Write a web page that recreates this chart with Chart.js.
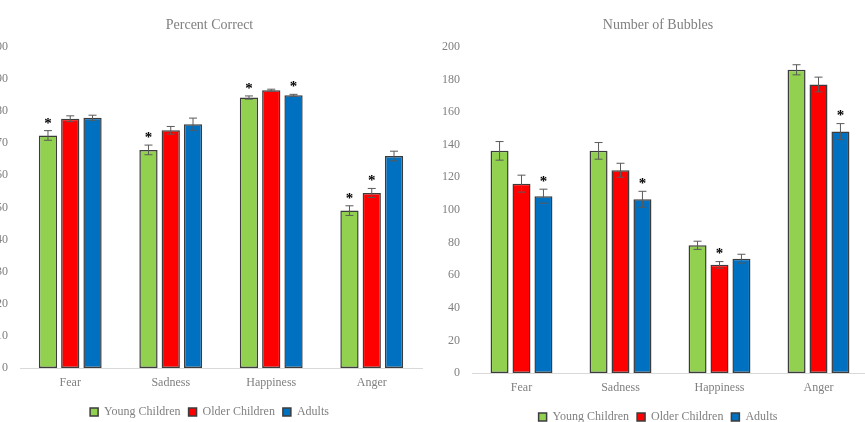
<!DOCTYPE html>
<html>
<head>
<meta charset="utf-8">
<script src="https://cdn.jsdelivr.net/npm/chart.js@4.4.0/dist/chart.umd.min.js"></script>
<style>
  html, body { margin: 0; padding: 0; background: #fff; }
  body { width: 865px; height: 422px; overflow: hidden; position: relative; }
  .box { position: absolute; top: 0; }
  #leftBox { left: -22px; width: 463px; height: 428px; }
  #rightBox { left: 430px; width: 456px; height: 433px; }
</style>
</head>
<body>
<div class="box" id="leftBox"><canvas id="chartPct"></canvas></div>
<div class="box" id="rightBox"><canvas id="chartBub"></canvas></div>
<script>
// categories and series
const categories = ['Fear', 'Sadness', 'Happiness', 'Anger'];
const seriesNames = ['Young Children', 'Older Children', 'Adults'];

// Percent Correct
const pctYoung = [72.4, 67.9, 84.2, 49.0];
const pctOlder = [77.6, 74.0, 86.5, 54.5];
const pctAdults = [77.9, 75.9, 84.9, 66.0];
const pctYoungErr = [1.5, 1.5, 0.5, 1.5];
const pctOlderErr = [0.9, 1.2, 0.3, 1.4];
const pctAdultsErr = [0.8, 1.9, 0.3, 1.5];
const pctYoungStar = [1, 1, 1, 1];
const pctOlderStar = [0, 0, 0, 1];
const pctAdultsStar = [0, 0, 1, 0];
const pctTicks = [0, 10, 20, 30, 40, 50, 60, 70, 80, 90, 100];

// Number of Bubbles
const bubYoung = [136.2, 136.2, 78.3, 185.9];
const bubOlder = [116.1, 124.3, 66.3, 176.9];
const bubAdults = [108.4, 106.5, 70.1, 148.0];
const bubYoungErr = [5.7, 5.1, 2.5, 3.1];
const bubOlderErr = [5.2, 4.3, 2.0, 4.5];
const bubAdultsErr = [4.3, 4.9, 2.7, 4.9];
const bubYoungStar = [0, 0, 0, 0];
const bubOlderStar = [0, 0, 1, 0];
const bubAdultsStar = [1, 1, 0, 1];
const bubTicks = [0, 20, 40, 60, 80, 100, 120, 140, 160, 180, 200];

const colors = ['#92D050', '#FF0000', '#0070C0'];
const gray = '#808080';
const serif = '"Liberation Serif", "Times New Roman", serif';

// draws error bars and significance stars
const errorBarPlugin = {
    id: 'errorBars',
    afterDatasetsDraw(chart) {
        const ctx = chart.ctx;
        const yScale = chart.scales.y;
        chart.data.datasets.forEach((ds, i) => {
            const meta = chart.getDatasetMeta(i);
            meta.data.forEach((bar, j) => {
                const v = ds.data[j];
                const e = ds.errors[j];
                const yTop = yScale.getPixelForValue(v + e);
                const yBot = yScale.getPixelForValue(v - e);
                ctx.save();
                ctx.strokeStyle = '#5a5a5a';
                ctx.lineWidth = 1;
                ctx.beginPath();
                ctx.moveTo(bar.x, yTop);
                ctx.lineTo(bar.x, yBot);
                ctx.moveTo(bar.x - 4, yTop);
                ctx.lineTo(bar.x + 4, yTop);
                ctx.moveTo(bar.x - 4, yBot);
                ctx.lineTo(bar.x + 4, yBot);
                ctx.stroke();
                if (ds.stars[j]) {
                    ctx.fillStyle = '#000';
                    ctx.font = 'bold 15px ' + serif;
                    ctx.textAlign = 'center';
                    ctx.textBaseline = 'middle';
                    ctx.fillText('*', bar.x, yTop - 7);
                }
                ctx.restore();
            });
        });
    }
};

function makeDatasets(values, errors, stars) {
    return values.map((vals, i) => ({
        label: seriesNames[i],
        data: vals,
        errors: errors[i],
        stars: stars[i],
        backgroundColor: colors[i],
        borderColor: '#3c3c3c',
        borderWidth: 1.5,
        borderSkipped: false,
        categoryPercentage: 0.665,
        barPercentage: 0.82
    }));
}

// spareRight: empty space kept right of the plot, so title and legend sit left of the plot centre
function appendChart(canvasId, title, datasets, ticks, spareRight) {
    return new Chart(document.getElementById(canvasId), {
        type: 'bar',
        data: { labels: categories, datasets: datasets },
        options: {
            responsive: true,
            maintainAspectRatio: false,
            animation: false,
            layout: { padding: 0 },
            plugins: {
                title: {
                    display: true,
                    text: title,
                    color: gray,
                    font: { family: serif, size: 14, weight: 'normal' },
                    padding: { top: 17, bottom: 13 }
                },
                legend: {
                    position: 'bottom',
                    labels: {
                        color: gray,
                        font: { family: serif, size: 12 },
                        boxWidth: 8,
                        boxHeight: 8,
                        padding: 8
                    }
                },
                tooltip: { enabled: false }
            },
            scales: {
                x: {
                    grid: { display: false, drawTicks: false },
                    border: { display: true, color: '#d9d9d9', width: 1 },
                    ticks: { color: gray, font: { family: serif, size: 12, lineHeight: 1.0 }, padding: 9 }
                },
                y: {
                    min: ticks[0],
                    max: ticks[ticks.length - 1],
                    afterBuildTicks(axis) {
                        axis.ticks = ticks.map(v => ({ value: v }));
                    },
                    afterFit(axis) { axis.width = 42; },
                    grid: { display: false, drawTicks: false },
                    border: { display: false },
                    ticks: { color: gray, font: { family: serif, size: 12 }, padding: 12 }
                },
                spare: {
                    type: 'linear',
                    position: 'right',
                    afterFit(axis) { axis.width = spareRight; },
                    grid: { display: false, drawTicks: false },
                    border: { display: false },
                    ticks: { display: false }
                }
            }
        },
        plugins: [errorBarPlugin]
    });
}

appendChart('chartPct', 'Percent Correct',
    makeDatasets([pctYoung, pctOlder, pctAdults],
        [pctYoungErr, pctOlderErr, pctAdultsErr],
        [pctYoungStar, pctOlderStar, pctAdultsStar]),
    pctTicks, 19);

appendChart('chartBub', 'Number of Bubbles',
    makeDatasets([bubYoung, bubOlder, bubAdults],
        [bubYoungErr, bubOlderErr, bubAdultsErr],
        [bubYoungStar, bubOlderStar, bubAdultsStar]),
    bubTicks, 18);
</script>
</body>
</html>
